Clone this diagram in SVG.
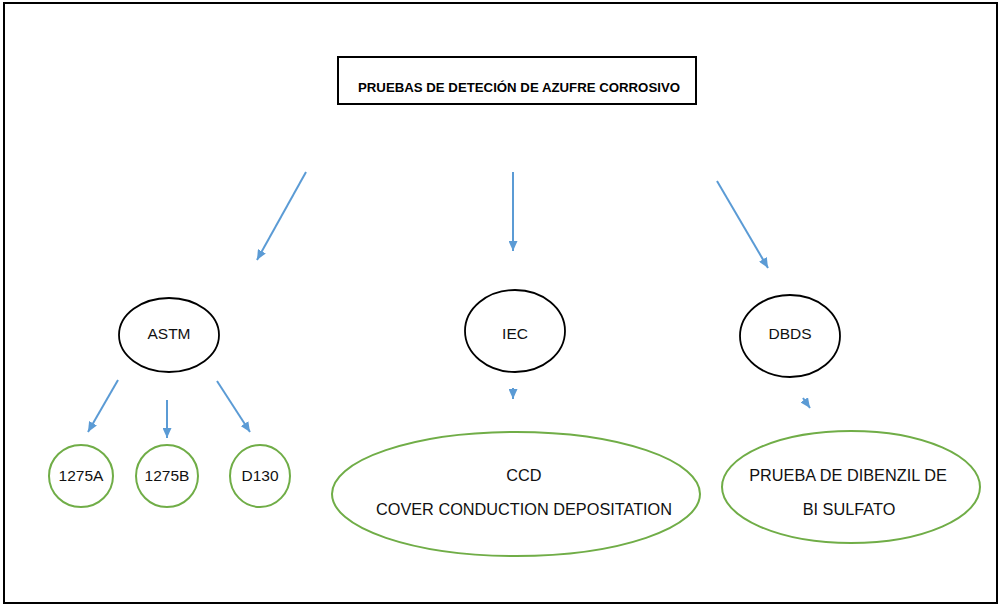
<svg xmlns="http://www.w3.org/2000/svg" width="1000" height="605" viewBox="0 0 1000 605">
<defs>
<marker id="ah" markerWidth="10" markerHeight="9" refX="10" refY="4.5" orient="auto" markerUnits="userSpaceOnUse">
<path d="M0,0 L10,4.5 L0,9 Z" fill="#5b9bd5"/>
</marker>
<style>
.lbl{font-family:"Liberation Sans",Arial,sans-serif;font-size:15.5px;fill:#111;text-anchor:middle}
.big{font-size:16.3px}
.bk{fill:#fff;stroke:#000;stroke-width:1.8}
.gr{fill:#fff;stroke:#70ad47;stroke-width:2}
.ar{stroke:#5b9bd5;stroke-width:2;fill:none;marker-end:url(#ah)}
</style>
</defs>
<rect x="0" y="0" width="1000" height="605" fill="#fff"/>
<rect x="4" y="3" width="993" height="600" fill="none" stroke="#000" stroke-width="2"/>
<g id="title">
<rect x="338" y="57" width="358" height="47" fill="#fff" stroke="#000" stroke-width="2"/>
<text x="519" y="92" font-family="Liberation Sans,Arial,sans-serif" font-weight="bold" font-size="12.5" fill="#000" text-anchor="middle" textLength="322" lengthAdjust="spacingAndGlyphs">PRUEBAS DE DETECIÓN DE AZUFRE CORROSIVO</text>
</g>
<g id="connectors">
<line class="ar" x1="306" y1="172" x2="257" y2="260"/>
<line class="ar" x1="513" y1="172" x2="513" y2="251"/>
<line class="ar" x1="717" y1="181" x2="768" y2="268"/>
<line class="ar" x1="118" y1="380" x2="88" y2="432"/>
<line class="ar" x1="167" y1="400" x2="167" y2="438"/>
<line class="ar" x1="217" y1="381" x2="250" y2="432"/>
<line class="ar" x1="513" y1="388" x2="513" y2="399"/>
<line class="ar" x1="803" y1="398" x2="810" y2="408"/>
</g>
<g id="astm">
<ellipse class="bk" cx="169" cy="335" rx="50" ry="37"/>
<text class="lbl" x="169" y="339">ASTM</text>
</g>
<g id="iec">
<ellipse class="bk" cx="515" cy="331" rx="50" ry="41"/>
<text class="lbl" x="515" y="339">IEC</text>
</g>
<g id="dbds">
<ellipse class="bk" cx="790" cy="336" rx="50" ry="41"/>
<text class="lbl" x="790" y="339">DBDS</text>
</g>
<g id="n1275a">
<ellipse class="gr" cx="81" cy="476" rx="32" ry="31"/>
<text class="lbl" x="81" y="481">1275A</text>
</g>
<g id="n1275b">
<ellipse class="gr" cx="167" cy="476" rx="31" ry="31"/>
<text class="lbl" x="167" y="481">1275B</text>
</g>
<g id="d130">
<ellipse class="gr" cx="260" cy="476" rx="30" ry="31"/>
<text class="lbl" x="260" y="481">D130</text>
</g>
<g id="ccd">
<ellipse class="gr" cx="516" cy="494" rx="184" ry="62"/>
<text class="lbl big" x="524" y="481">CCD</text>
<text class="lbl big" x="524" y="515">COVER CONDUCTION DEPOSITATION</text>
</g>
<g id="prueba">
<ellipse class="gr" cx="851" cy="487" rx="129" ry="56"/>
<text class="lbl big" x="848" y="481">PRUEBA DE DIBENZIL DE</text>
<text class="lbl big" x="849" y="515">BI SULFATO</text>
</g>
</svg>
